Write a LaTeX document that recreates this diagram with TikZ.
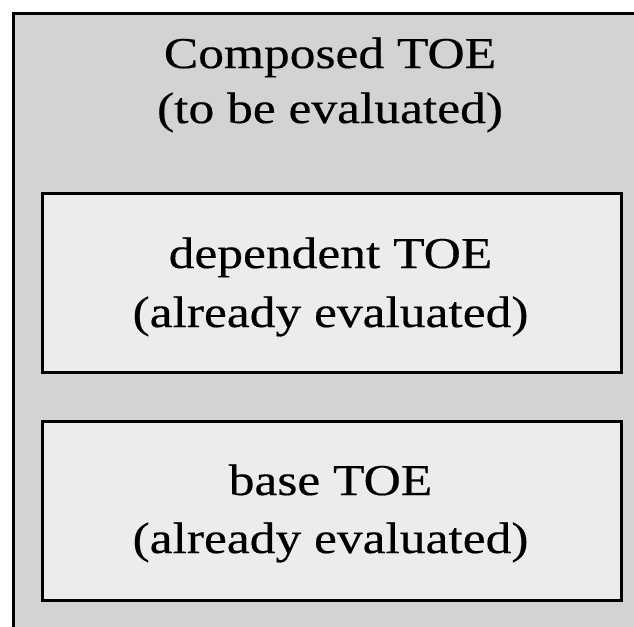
\documentclass[tikz,border=0pt]{standalone}
\usepackage{fontspec}
\setmainfont{Liberation Serif}[FakeStretch=1.17,FakeBold=0.4]
\definecolor{outerfill}{HTML}{D2D4D3}
\definecolor{innerfill}{HTML}{ECECEC}
\begin{document}
\begin{tikzpicture}[x=1pt,y=-1pt,
  outerbox/.style={draw=black,line width=3pt,fill=outerfill},
  innerbox/.style={draw=black,line width=2.5pt,fill=innerfill},
  lbl/.style={anchor=base,inner sep=0pt,font=\fontsize{44}{50}\selectfont}]
\useasboundingbox (0,0) rectangle (634,626);
\begin{scope}
\clip (0,0) rectangle (634,626);
\draw[outerbox] (13.5,13.5) rectangle (660,660);
\end{scope}
\node[innerbox,minimum width=579pt,minimum height=179pt,anchor=north west] (dep) at (41,192) {};
\node[innerbox,minimum width=579pt,minimum height=179pt,anchor=north west] (base) at (41,420) {};
\node[lbl] (t1) at (330,68) {Composed TOE};
\node[lbl] (t2) at (330,123) {(to be evaluated)};
\node[lbl] (d1) at (330.5,268) {dependent TOE};
\node[lbl] (d2) at (330.5,327) {(already evaluated)};
\node[lbl] (b1) at (330.5,495) {base TOE};
\node[lbl] (b2) at (330.5,553) {(already evaluated)};
\end{tikzpicture}
\end{document}
